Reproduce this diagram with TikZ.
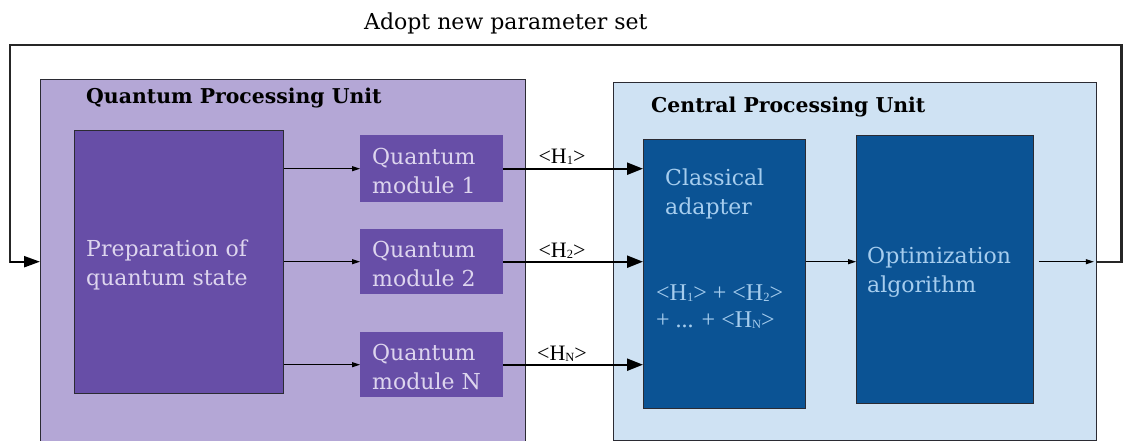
\documentclass[tikz,border=0pt]{standalone}
\usepackage{fontspec}
\setmainfont{DejaVu Serif}
\newfontfamily\tnr{Liberation Serif}
\usetikzlibrary{arrows.meta}

\definecolor{qpubg}{HTML}{B4A7D6}
\definecolor{qpubox}{HTML}{674EA7}
\definecolor{qputext}{HTML}{DDD5EE}
\definecolor{cpubg}{HTML}{CFE2F3}
\definecolor{cpubox}{HTML}{0B5394}
\definecolor{cputext}{HTML}{A6CDEE}
\definecolor{edge}{HTML}{2B2B33}

% small lowered index as in <H1>
\newcommand{\hidx}[1]{\raisebox{-0.04em}{\fontsize{12.5}{12.5}\selectfont #1}}

\tikzset{
  unitbox/.style={draw=edge, line width=0.9pt, inner sep=0pt},
  innerbox/.style={draw=edge, line width=0.9pt, inner sep=0pt},
  modbox/.style={fill=qpubox, draw=none, inner sep=0pt},
  unittitle/.style={anchor=west, inner sep=0pt, font=\fontsize{20.4}{24}\selectfont\bfseries},
  bodytext/.style={anchor=west, inner sep=0pt, align=left, font=\fontsize{22}{29}\selectfont},
  hlabel/.style={inner sep=0pt, font=\tnr\fontsize{22}{24}\selectfont},
  thinarrow/.style={line width=1pt, draw=black, -{Triangle[length=8pt,width=5pt]}},
  thickarrow/.style={line width=2.2pt, draw=black, -{Triangle[length=16pt,width=12pt]}},
  loopline/.style={line width=2.2pt, draw=black!85, line cap=rect},
}

\begin{document}
\begin{tikzpicture}[x=1pt,y=-1pt]
  \clip (0,0) rectangle (1123,441);

  % processing units
  \node[unitbox, fill=qpubg, minimum width=485pt, minimum height=370pt, anchor=north west] (qpu) at (40,79) {};
  \node[unitbox, fill=cpubg, minimum width=483pt, minimum height=358pt, anchor=north west] (cpu) at (613,82) {};
  \node[unittitle] (qputitle) at (86,98) {Quantum Processing Unit};
  \node[unittitle] (cputitle) at (651,107) {Central Processing Unit};

  % quantum side
  \node[innerbox, fill=qpubox, minimum width=209pt, minimum height=263pt, anchor=north west] (prep) at (74,130) {};
  \node[bodytext, text=qputext] (preptext) at (86,265) {Preparation of\\quantum state};
  \node[modbox, minimum width=143pt, minimum height=67pt, anchor=north west] (m1) at (360,135) {};
  \node[modbox, minimum width=143pt, minimum height=65pt, anchor=north west] (m2) at (360,229) {};
  \node[modbox, minimum width=143pt, minimum height=65pt, anchor=north west] (mN) at (360,332) {};
  \node[bodytext, text=qputext] (m1text) at (372,170.5) {Quantum\\module 1};
  \node[bodytext, text=qputext] (m2text) at (372,263.5) {Quantum\\module 2};
  \node[bodytext, text=qputext] (mNtext) at (372,366.5) {Quantum\\module N};

  % classical side
  \node[innerbox, fill=cpubox, minimum width=162pt, minimum height=269pt, anchor=north west] (adapter) at (643,139) {};
  \node[innerbox, fill=cpubox, minimum width=177pt, minimum height=268pt, anchor=north west] (opt) at (856,135) {};
  \node[bodytext, text=cputext] (adtext) at (665,194) {Classical\\adapter};
  \node[anchor=west, inner sep=0pt, align=left, text=cputext, font=\tnr\fontsize{24}{27}\selectfont] (sumtext) at (656,307)
    {<H\hidx{1}> + <H\hidx{2}>\\+ ... + <H\hidx{N}>};
  \node[bodytext, text=cputext] (opttext) at (867,272) {Optimization\\algorithm};

  % preparation to modules
  \draw[thinarrow] (prep.east |- m1.west) -- (m1.west);
  \draw[thinarrow] (prep.east |- m2.west) -- (m2.west);
  \draw[thinarrow] (prep.east |- mN.west) -- (mN.west);

  % expectation values to the adapter
  \draw[thickarrow] (m1.east) -- node[hlabel, pos=0.42, above=3pt] (h1) {<H\hidx{1}>} (m1.east -| adapter.west);
  \draw[thickarrow] (m2.east) -- node[hlabel, pos=0.42, above=2pt] (h2) {<H\hidx{2}>} (m2.east -| adapter.west);
  \draw[thickarrow] (mN.east) -- node[hlabel, pos=0.42, above=2pt] (hN) {<H\hidx{N}>} (mN.east -| adapter.west);

  % adapter to optimizer and out
  \draw[thinarrow] (adapter.east |- m2.east) -- (opt.west |- m2.east);
  \coordinate (outstart) at ([xshift=5pt]opt.east |- m2.east);
  \draw[thinarrow] (outstart) -- ([xshift=-3pt]cpu.east |- m2.east);

  % feedback loop
  \coordinate (fbR) at (1121.5,45);
  \coordinate (fbL) at (10,45);
  \draw[loopline] (cpu.east |- m2.east) -- (fbR |- m2.east) -- (fbR) -- (fbL) -- (fbL |- m2.east);
  \draw[line width=2.2pt, -{Triangle[length=16pt,width=11pt]}] (fbL |- m2.east) -- (qpu.west |- m2.east);
  \node[font=\fontsize{22}{26}\selectfont, anchor=west, inner sep=0pt] (title) at (364,23) {Adopt new parameter set};
\end{tikzpicture}
\end{document}
